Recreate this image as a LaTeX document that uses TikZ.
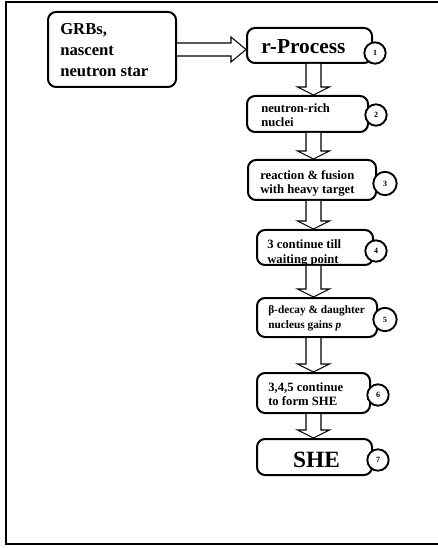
\documentclass[tikz,border=0pt]{standalone}
\usepackage{fontspec}
\setmainfont{Liberation Serif}
\usetikzlibrary{calc}
\tikzset{
  box/.style={draw, line width=1.5pt, rounded corners=6pt, inner sep=0pt, fill=white},
  num/.style={draw, circle, line width=1.4pt, fill=white, minimum size=16pt, inner sep=0pt, font=\fontsize{6}{6}\selectfont\bfseries},
  txt/.style={anchor=base west, inner sep=0pt, align=left, font=\fontsize{9.5}{10.5}\selectfont\bfseries},
  blk/.style={draw, line width=0.8pt, fill=white, line join=miter},
}
\newcommand\vblock[2]{%
  \draw[blk] ($(#1.south -| xc)+(-7.5,0)$) -- ($(#2.north -| xc)+(-7.5,-8)$)
    -- ($(#2.north -| xc)+(-16,-8)$) -- (#2.north -| xc)
    -- ($(#2.north -| xc)+(16,-8)$) -- ($(#2.north -| xc)+(7.5,-8)$)
    -- ($(#1.south -| xc)+(7.5,0)$);}
\begin{document}
\begin{tikzpicture}[x=0.75pt, y=-0.75pt]
\useasboundingbox (0,0) rectangle (437,548);
\draw[line width=2pt] (6,2) rectangle (445,544);
\coordinate (xc) at (313.5,0);
% boxes
\node[box, minimum width=128*0.75pt, minimum height=75*0.75pt] (grb) at (112,49.5) {};
\node[txt, font=\fontsize{12.5}{16}\selectfont\bfseries] (grbt) at (60,77) {GRBs,\\nascent\\neutron star};
\node[box, minimum width=125*0.75pt, minimum height=35*0.75pt] (r1) at (309.5,45.5) {};
\node[box, minimum width=121*0.75pt, minimum height=36*0.75pt] (r2) at (307.5,114) {};
\node[box, minimum width=128*0.75pt, minimum height=40*0.75pt] (r3) at (312,180) {};
\node[box, minimum width=116*0.75pt, minimum height=35*0.75pt] (r4) at (315,247.5) {};
\node[box, minimum width=120*0.75pt, minimum height=39*0.75pt] (r5) at (317,317.5) {};
\node[box, minimum width=113*0.75pt, minimum height=40*0.75pt] (r6) at (313.5,393) {};
\node[box, minimum width=115*0.75pt, minimum height=36*0.75pt] (r7) at (314.5,457) {};
% texts
\node[txt, font=\fontsize{16}{16}\selectfont\bfseries] (t1) at (261,54) {r-Process};
\node[txt] (t2) at (261,127) {neutron-rich\\nuclei};
\begin{scope}
\clip (249,162) rectangle (375,198.5);
\node[txt] (t3) at (260,194) {reaction \& fusion\\with heavy target};
\end{scope}
\begin{scope}
\clip (258,231) rectangle (372,263.5);
\node[txt] (t4) at (267,263) {3 continue till\\waiting point};
\end{scope}
\node[txt, font=\fontsize{8.5}{11}\selectfont\bfseries] (t5) at (268,328) {β-decay \& daughter\\nucleus gains \textit{p}};
\node[txt] (t6) at (268,405) {3,4,5 continue\\to form SHE};
\node[anchor=base, inner sep=0pt, font=\fontsize{17.5}{17.5}\selectfont\bfseries] (t7) at (316.5,467) {SHE};
% number circles
\node[num] (n1) at (375,53) {1};
\node[num] (n2) at (376,115) {2};
\node[num, minimum size=17.5pt] (n3) at (385,183.5) {3};
\node[num] (n4) at (376,251) {4};
\node[num, minimum size=17.5pt] (n5) at (385,319.5) {5};
\node[num] (n6) at (378,395) {6};
\node[num] (n7) at (378,460) {7};
% horizontal block arrow
\draw[blk] (grb.east) ++(0,-6.5) -- ($(r1.west |- grb.east)+(-15,-6.5)$)
  -- ($(r1.west |- grb.east)+(-15,-12.5)$) -- (r1.west |- grb.east)
  -- ($(r1.west |- grb.east)+(-15,12.5)$) -- ($(r1.west |- grb.east)+(-15,6.5)$)
  -- ($(grb.east)+(0,6.5)$);
% vertical block arrows
\vblock{r1}{r2}
\vblock{r2}{r3}
\vblock{r3}{r4}
\vblock{r4}{r5}
\vblock{r5}{r6}
\vblock{r6}{r7}
\end{tikzpicture}
\end{document}
